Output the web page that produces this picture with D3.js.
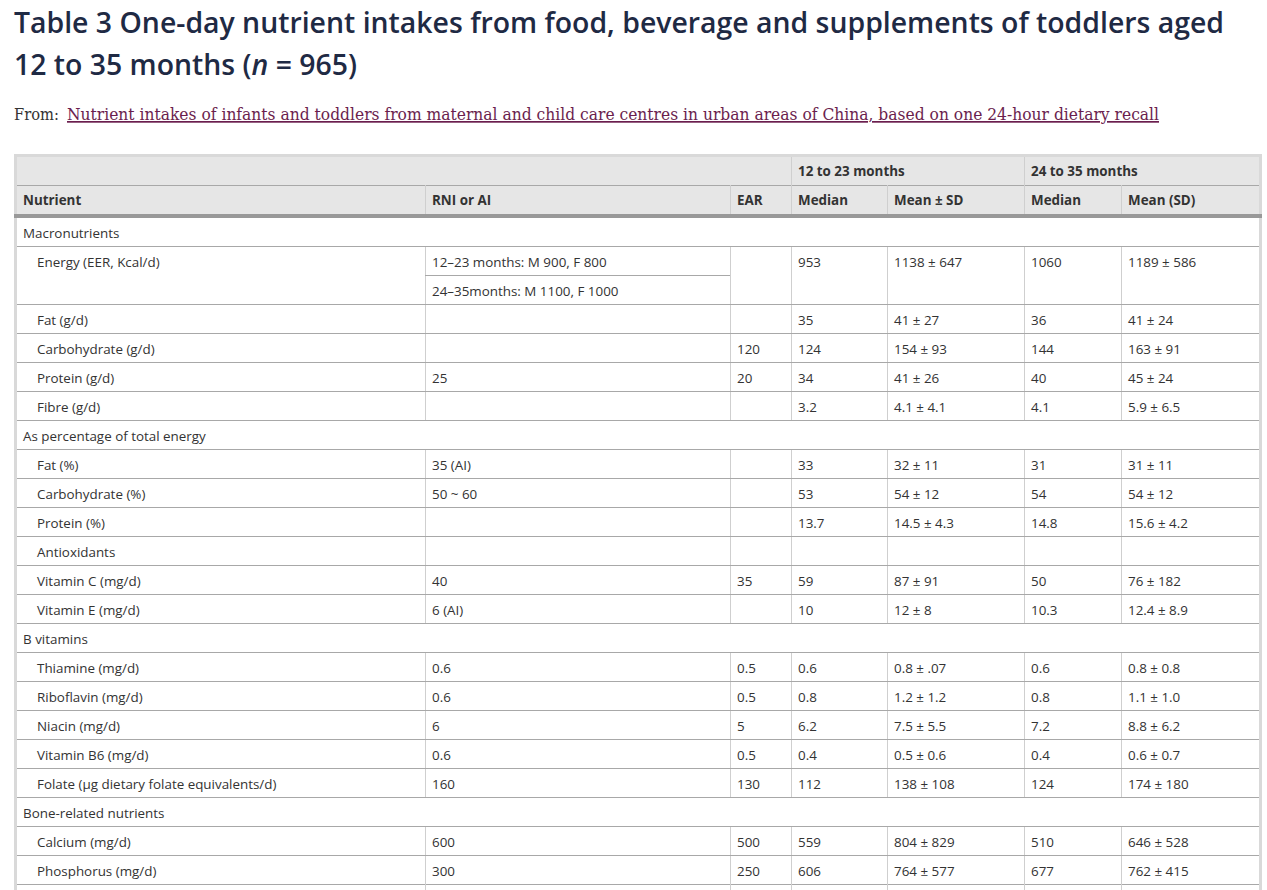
<!DOCTYPE html>
<html>
<head>
<meta charset="utf-8">
<script src="https://cdnjs.cloudflare.com/ajax/libs/d3/7.8.5/d3.min.js"></script>
<style>
  html, body { margin: 0; padding: 0; background: #fff; }
  svg { display: block; }
</style>
</head>
<body>
<svg id="chart" width="1267" height="890"></svg>
<script>
// ---------------- DATA ----------------
const titleLines = ["Table 3 One-day nutrient intakes from food, beverage and supplements of toddlers aged",
                    "12 to 35 months (", "n", " = 965)"];
const sourcePrefix = "From:";
const sourceLink = "Nutrient intakes of infants and toddlers from maternal and child care centres in urban areas of China, based on one 24-hour dietary recall";

const groupHeaders = ["", "12 to 23 months", "24 to 35 months"];
const columnHeaders = ["Nutrient", "RNI or AI", "EAR", "Median", "Mean ± SD", "Median", "Mean (SD)"];

const nutrients = [
  "Macronutrients", "Energy (EER, Kcal/d)", "Fat (g/d)", "Carbohydrate (g/d)", "Protein (g/d)", "Fibre (g/d)",
  "As percentage of total energy", "Fat (%)", "Carbohydrate (%)", "Protein (%)", "Antioxidants",
  "Vitamin C (mg/d)", "Vitamin E (mg/d)",
  "B vitamins", "Thiamine (mg/d)", "Riboflavin (mg/d)", "Niacin (mg/d)", "Vitamin B6 (mg/d)",
  "Folate (µg dietary folate equivalents/d)",
  "Bone-related nutrients", "Calcium (mg/d)", "Phosphorus (mg/d)"
];
const rowKind = [
  "section", "item", "item", "item", "item", "item",
  "section", "item", "item", "item", "item",
  "item", "item",
  "section", "item", "item", "item", "item",
  "item",
  "section", "item", "item"
];
const rniOrAi = [
  null, ["12–23 months: M 900, F 800", "24–35months: M 1100, F 1000"], "", "", "25", "",
  null, "35 (AI)", "50 ~ 60", "", "",
  "40", "6 (AI)",
  null, "0.6", "0.6", "6", "0.6", "160",
  null, "600", "300"
];
const ear = [
  null, "", "", "120", "20", "",
  null, "", "", "", "",
  "35", "",
  null, "0.5", "0.5", "5", "0.5", "130",
  null, "500", "250"
];
const median12 = [
  null, "953", "35", "124", "34", "3.2",
  null, "33", "53", "13.7", "",
  "59", "10",
  null, "0.6", "0.8", "6.2", "0.4", "112",
  null, "559", "606"
];
const mean12 = [
  null, "1138 ± 647", "41 ± 27", "154 ± 93", "41 ± 26", "4.1 ± 4.1",
  null, "32 ± 11", "54 ± 12", "14.5 ± 4.3", "",
  "87 ± 91", "12 ± 8",
  null, "0.8 ± .07", "1.2 ± 1.2", "7.5 ± 5.5", "0.5 ± 0.6", "138 ± 108",
  null, "804 ± 829", "764 ± 577"
];
const median24 = [
  null, "1060", "36", "144", "40", "4.1",
  null, "31", "54", "14.8", "",
  "50", "10.3",
  null, "0.6", "0.8", "7.2", "0.4", "124",
  null, "510", "677"
];
const mean24 = [
  null, "1189 ± 586", "41 ± 24", "163 ± 91", "45 ± 24", "5.9 ± 6.5",
  null, "31 ± 11", "54 ± 12", "15.6 ± 4.2", "",
  "76 ± 182", "12.4 ± 8.9",
  null, "0.8 ± 0.8", "1.1 ± 1.0", "8.8 ± 6.2", "0.6 ± 0.7", "174 ± 180",
  null, "646 ± 528", "762 ± 415"
];

// ---------------- LAYOUT ----------------
const W = 1267, H = 890;
const tableLeft = 14, tableRight = 1262, tableTop = 154;
const border = 3;
const colWidths = [408, 305, 61, 96, 137, 97, 138];
const headRow1 = [157, 185], headRow2 = [185, 214], thick = [214, 218];
const bodyTop = 218, rowH = 29;
const textColor = "#333";
const bodyFont = "'Open Sans', 'Noto Sans', sans-serif";
const bodySize = 13.4;

const svg = d3.select("#chart");

// Title
const title = svg.append("g").attr("fill", "#1f2a44")
  .attr("font-family", "'Open Sans', 'Noto Sans', sans-serif")
  .attr("font-weight", 600).attr("font-size", 28);
title.append("text").attr("x", 14).attr("y", 33)
  .attr("textLength", 1210).attr("lengthAdjust", "spacingAndGlyphs")
  .text(titleLines[0]);
const t2 = title.append("text").attr("x", 14).attr("y", 75)
  .attr("textLength", 343).attr("lengthAdjust", "spacingAndGlyphs");
t2.append("tspan").text(titleLines[1]);
t2.append("tspan").attr("font-style", "italic").text(titleLines[2]);
t2.append("tspan").text(titleLines[3]);

// Source line
const serif = "'DejaVu Serif', 'Liberation Serif', serif";
svg.append("text").attr("x", 14).attr("y", 120)
  .attr("font-family", serif).attr("font-size", 17).attr("fill", textColor)
  .attr("textLength", 45).attr("lengthAdjust", "spacingAndGlyphs")
  .text(sourcePrefix);
svg.append("text").attr("x", 67).attr("y", 120)
  .attr("font-family", serif).attr("font-size", 17).attr("fill", "#6b1e4e")
  .attr("text-decoration", "underline")
  .attr("textLength", 1092).attr("lengthAdjust", "spacingAndGlyphs")
  .text(sourceLink);

// Column scale
const colKeys = ["nutrient", "rni", "ear", "med12", "mean12", "med24", "mean24"];
const edges = [tableLeft + border];
colWidths.forEach((w, i) => edges.push(edges[i] + w));
const xCol = d3.scaleOrdinal().domain(colKeys).range(edges.slice(0, colKeys.length));
const xEnd = tableRight - border;

// Row units
const units = nutrients.map((d, i) => Array.isArray(rniOrAi[i]) ? rniOrAi[i].length : 1);
const starts = [0]; units.forEach((u, i) => starts.push(starts[i] + u));
const totalUnits = starts[starts.length - 1];
const y = d3.scaleLinear().domain([0, totalUnits]).range([bodyTop, bodyTop + totalUnits * rowH]);

// Outer frame
svg.append("rect").attr("x", tableLeft).attr("y", tableTop)
  .attr("width", tableRight - tableLeft).attr("height", H - tableTop + 10)
  .attr("fill", "#d9d9d9");
svg.append("rect").attr("x", tableLeft + border).attr("y", tableTop + border)
  .attr("width", tableRight - tableLeft - 2 * border).attr("height", H)
  .attr("fill", "#fff");
svg.append("rect").attr("x", tableLeft + border).attr("y", headRow1[0])
  .attr("width", xEnd - tableLeft - border).attr("height", thick[0] - headRow1[0])
  .attr("fill", "#e6e6e6");

const lines = svg.append("g").attr("shape-rendering", "crispEdges");
lines.append("line").attr("x1", tableLeft + border).attr("x2", xEnd)
  .attr("y1", headRow1[1] + 0.5).attr("y2", headRow1[1] + 0.5).attr("stroke", "#a8a8a8");
[["med12", headRow1[0], headRow2[1]], ["med24", headRow1[0], headRow2[1]],
 ["rni", headRow2[0], headRow2[1]], ["ear", headRow2[0], headRow2[1]],
 ["mean12", headRow2[0], headRow2[1]], ["mean24", headRow2[0], headRow2[1]]].forEach(([k, a, b]) => {
  lines.append("line").attr("x1", xCol(k) + 0.5).attr("x2", xCol(k) + 0.5)
    .attr("y1", a).attr("y2", b).attr("stroke", "#cfcfcf");
});
svg.append("rect").attr("x", tableLeft).attr("y", thick[0])
  .attr("width", tableRight - tableLeft).attr("height", thick[1] - thick[0])
  .attr("fill", "#999");

// Header text
const headG = svg.append("g").attr("font-family", bodyFont).attr("font-weight", 700)
  .attr("font-size", bodySize).attr("fill", textColor).attr("dominant-baseline", "central");
headG.selectAll("text.g").data(groupHeaders.slice(1)).join("text")
  .attr("x", (d, i) => xCol(i === 0 ? "med12" : "med24") + 7)
  .attr("y", (headRow1[0] + headRow1[1]) / 2 - 0.5)
  .text(d => d);
headG.selectAll("text.c").data(columnHeaders).join("text")
  .attr("x", (d, i) => xCol(colKeys[i]) + (i === 0 ? 6 : 7))
  .attr("y", (headRow2[0] + headRow2[1]) / 2 + 0.5)
  .text(d => d);

// Body rows
const rows = nutrients.map((label, i) => ({
  i, label, kind: rowKind[i], rni: rniOrAi[i], ear: ear[i],
  med12: median12[i], mean12: mean12[i], med24: median24[i], mean24: mean24[i],
  top: y(starts[i]), bottom: y(starts[i + 1])
}));

rows.forEach(r => {
  lines.append("line").attr("x1", tableLeft + border).attr("x2", xEnd)
    .attr("y1", r.bottom - 0.5).attr("y2", r.bottom - 0.5).attr("stroke", "#a8a8a8");
});
rows.forEach((r, idx) => {
  if (r.kind !== "item") return;
  const bottom = idx === rows.length - 1 ? H : r.bottom - 1;
  colKeys.slice(1).forEach(k => {
    lines.append("line").attr("x1", xCol(k) + 0.5).attr("x2", xCol(k) + 0.5)
      .attr("y1", r.top).attr("y2", bottom).attr("stroke", "#cfcfcf");
  });
  if (Array.isArray(r.rni)) {
    for (let u = 1; u < r.rni.length; u++) {
      const yy = y(starts[r.i] + u) - 0.5;
      lines.append("line").attr("x1", xCol("rni")).attr("x2", xCol("ear"))
        .attr("y1", yy).attr("y2", yy).attr("stroke", "#a8a8a8");
    }
  }
});

const body = svg.append("g").attr("font-family", bodyFont).attr("font-size", bodySize)
  .attr("fill", textColor).attr("dominant-baseline", "central");
rows.forEach(r => {
  const cy = r.top + rowH / 2;
  if (r.kind === "section") {
    body.append("text").attr("x", xCol("nutrient") + 6).attr("y", cy).text(r.label);
    return;
  }
  body.append("text").attr("x", xCol("nutrient") + 20).attr("y", cy).text(r.label);
  const rniVals = Array.isArray(r.rni) ? r.rni : [r.rni];
  rniVals.forEach((v, u) => {
    body.append("text").attr("x", xCol("rni") + 7).attr("y", cy + u * rowH).text(v);
  });
  ["ear", "med12", "mean12", "med24", "mean24"].forEach(k => {
    body.append("text").attr("x", xCol(k) + 7).attr("y", cy).text(r[k]);
  });
});
</script>
</body>
</html>
